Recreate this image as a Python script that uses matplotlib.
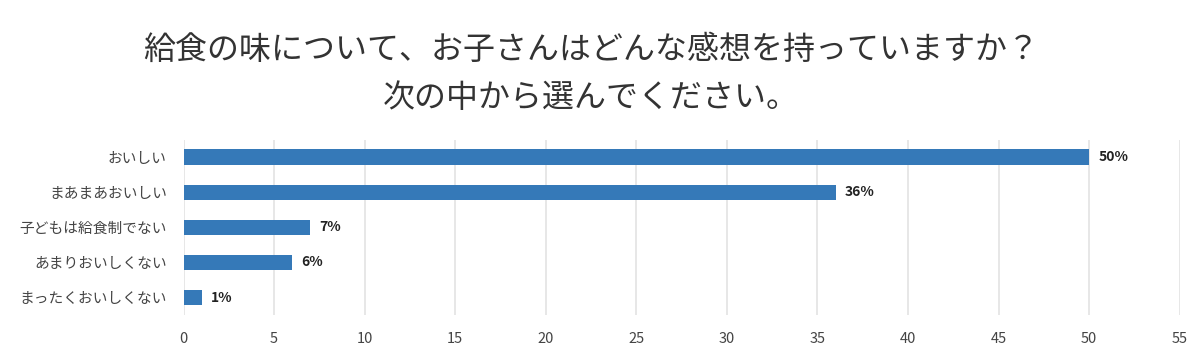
import matplotlib.pyplot as plt

plt.rcParams['font.family'] = ['Noto Sans CJK JP', 'DejaVu Sans']

# data
categories = ['おいしい', 'まあまあおいしい', '子どもは給食制でない', 'あまりおいしくない', 'まったくおいしくない']
values = [50, 36, 7, 6, 1]
labels = ['50%', '36%', '7%', '6%', '1%']
xticks = [0, 5, 10, 15, 20, 25, 30, 35, 40, 45, 50, 55]

fig = plt.figure(figsize=(12, 3.54), dpi=100)
ax = fig.add_axes([0.153, 0.11, 0.83, 0.495])

ypos = list(range(len(categories)))
ax.barh(ypos, values, height=0.45, color='#3579b8', zorder=3)
for y, v, t in zip(ypos, values, labels):
    ax.text(v + 0.5, y, t, va='center', ha='left', fontsize=10,
            fontweight='bold', color='#222222')

ax.set_yticks(ypos)
ax.set_yticklabels(categories, fontsize=10.6, color='#444444')
ax.set_ylim(len(categories) - 0.5, -0.5)
ax.set_xlim(0, 55)
ax.set_xticks(xticks)
ax.tick_params(axis='x', labelsize=10.5, colors='#444444', length=0, pad=12)
ax.tick_params(axis='y', length=0, pad=12)
ax.grid(axis='x', color='#e3e3e3', linewidth=1.2, zorder=0)
for s in ax.spines.values():
    s.set_visible(False)

fig.text(0.4925, 0.86, '給食の味について、お子さんはどんな感想を持っていますか？',
         ha='center', va='center', fontsize=23, color='#333333')
fig.text(0.4925, 0.722, '次の中から選んでください。',
         ha='center', va='center', fontsize=23, color='#333333')

fig.savefig('out.png', dpi=100)
